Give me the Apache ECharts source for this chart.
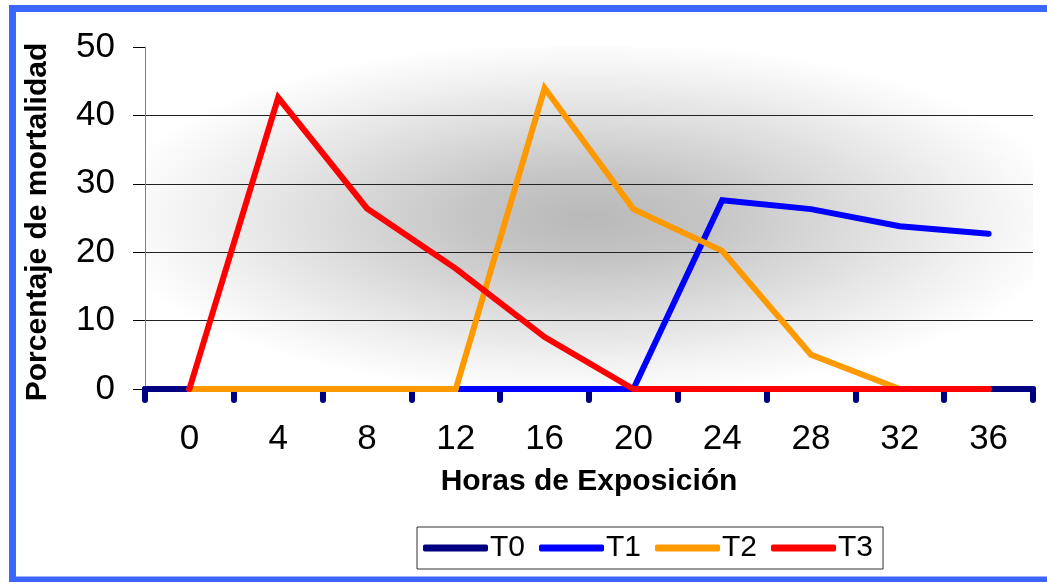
<!DOCTYPE html>
<html>
<head>
<meta charset="utf-8">
<script src="https://cdn.jsdelivr.net/npm/echarts@6/dist/echarts.min.js"></script>
<style>
  html, body { margin: 0; padding: 0; background: #fff; }
  #chart { width: 1047px; height: 582px; }
</style>
</head>
<body>
<div id="chart"></div>
<script>
// Exposure hours (x categories)
const horas = ['0', '4', '8', '12', '16', '20', '24', '28', '32', '36'];

// Mortality percentage per treatment
const t0 = [0, 0, 0, 0, 0, 0, 0, 0, 0, 0];
const t1 = [0, 0, 0, 0, 0, 0, 27.6, 26.3, 23.8, 22.7];
const t2 = [0, 0, 0, 0, 44.0, 26.3, 20.2, 5.0, 0, 0];
const t3 = [0, 42.6, 26.4, 17.6, 7.6, 0, 0, 0, 0, 0];

const seriesNames = ['T0', 'T1', 'T2', 'T3'];
const seriesColors = ['#000080', '#0000ff', '#ff9900', '#ff0000'];
const seriesData = [t0, t1, t2, t3];

const FONT = '"Liberation Sans", Arial, sans-serif';

// plot box in pixels
const G = { left: 145, top: 47, width: 888, height: 342 };
const cx = G.left + G.width / 2;
const cy = G.top + G.height / 2;
// radii of the elliptical shading
const shadeRy = 178;
const shadeRx = 485;
const k = shadeRx / shadeRy;

const chart = echarts.init(document.getElementById('chart'), null, { renderer: 'canvas' });

chart.setOption({
  backgroundColor: '#ffffff',
  animation: false,
  graphic: [
    {
      // shaded plot background: elliptical gradient, dark in the middle
      type: 'rect',
      z: -10,
      x: cx, y: cy,
      scaleX: k,
      shape: { x: -G.width / 2 / k, y: -G.height / 2, width: G.width / k, height: G.height },
      style: {
        fill: new echarts.graphic.RadialGradient(0, 0, shadeRy, [
          { offset: 0, color: '#b9b9b9' },
          { offset: 0.25, color: '#c5c5c5' },
          { offset: 0.55, color: '#dddddd' },
          { offset: 0.8, color: '#f1f1f1' },
          { offset: 1, color: '#ffffff' }
        ], true)
      },
      silent: true
    },
    {
      // outer frame
      type: 'rect',
      z: 100,
      shape: { x: 12.5, y: 8.5, width: 1045, height: 571.5 },
      style: { fill: 'none', stroke: '#3b66ff', lineWidth: 7 },
      silent: true
    }
  ],
  grid: { left: G.left, top: G.top, width: G.width, height: G.height },
  legend: {
    data: seriesNames,
    left: 417,
    top: 527,
    orient: 'horizontal',
    icon: 'roundRect',
    itemWidth: 65,
    itemHeight: 7,
    itemGap: 14,
    padding: [6, 10, 6, 6],
    borderColor: '#333',
    borderWidth: 1,
    backgroundColor: '#fff',
    textStyle: { fontFamily: FONT, fontSize: 30, color: '#000', padding: [0, 0, 0, -3] }
  },
  xAxis: {
    type: 'category',
    data: horas,
    boundaryGap: true,
    name: 'Horas de Exposición',
    nameLocation: 'middle',
    nameGap: 78,
    nameTextStyle: { fontFamily: FONT, fontSize: 30, fontWeight: 'bold', color: '#000' },
    axisLine: { show: true, lineStyle: { color: '#000080', width: 6, cap: 'round' } },
    axisTick: { show: true, alignWithLabel: false, length: 11, lineStyle: { color: '#000080', width: 6, cap: 'round' } },
    axisLabel: { fontFamily: FONT, fontSize: 35, color: '#000', margin: 33 },
    splitLine: { show: false }
  },
  yAxis: {
    type: 'value',
    min: 0,
    max: 50,
    interval: 10,
    name: 'Porcentaje de mortalidad',
    nameLocation: 'middle',
    nameRotate: 90,
    nameGap: 92,
    nameTextStyle: { fontFamily: FONT, fontSize: 30, fontWeight: 'bold', color: '#000', padding: [0, 8, 0, 0] },
    axisLine: { show: true, lineStyle: { color: '#808080', width: 1 } },
    axisTick: { show: true, length: 12, lineStyle: { color: '#000', width: 1 } },
    axisLabel: { fontFamily: FONT, fontSize: 35, color: '#000', margin: 30 },
    splitLine: { show: true, showMaxLine: false, lineStyle: { color: '#222', width: 1 } }
  },
  series: seriesNames.map((name, i) => ({
    name: name,
    type: 'line',
    data: seriesData[i],
    symbol: 'none',
    z: 2 + i,
    color: seriesColors[i],
    lineStyle: { color: seriesColors[i], width: 6, cap: 'round', join: 'miter' }
  }))
});
</script>
</body>
</html>
